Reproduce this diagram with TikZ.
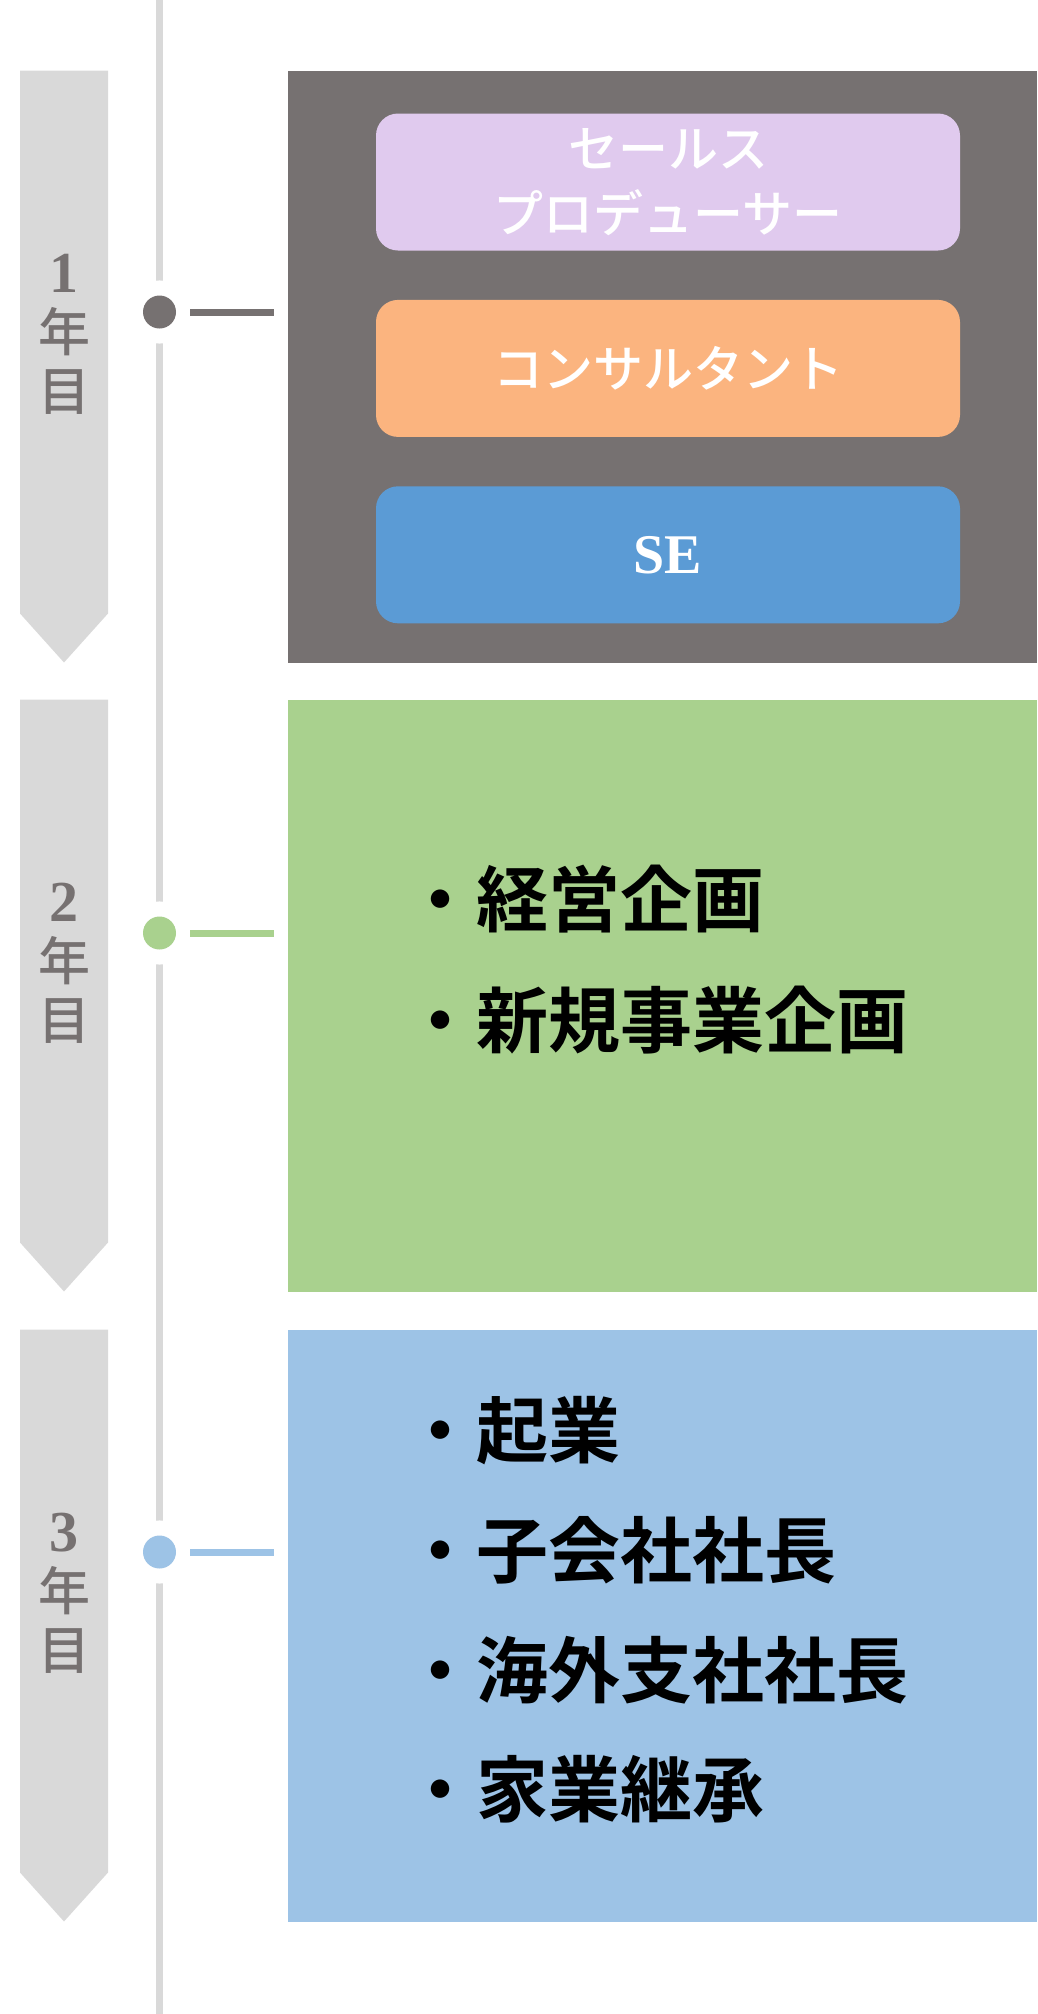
\documentclass[tikz,border=0pt]{standalone}
\usepackage{fontspec}
\setmainfont{Liberation Serif}
\newfontfamily\jp{Noto Sans CJK JP}[UprightFont=* Medium, BoldFont=* Bold]
\usetikzlibrary{positioning}

\definecolor{lineGray}{HTML}{D9D9D9}
\definecolor{darkGray}{HTML}{767171}
\definecolor{lavender}{HTML}{E0CAEE}
\definecolor{apricot}{HTML}{FBB47F}
\definecolor{seBlue}{HTML}{5B9BD5}
\definecolor{leafGreen}{HTML}{A9D18E}
\definecolor{skyBlue}{HTML}{9DC3E6}

\begin{document}
\begin{tikzpicture}[x=1pt, y=-1pt, node distance=49pt]
\tikzstyle{timeline} = [draw=lineGray, line width=7.5pt]
\tikzstyle{dot} = [circle, minimum size=33pt, inner sep=0pt, outer sep=14pt, preaction={draw=white, line width=30pt}]
\tikzstyle{link} = [line width=7pt, shorten >=14pt]
\tikzstyle{panel} = [rectangle, anchor=north west, minimum width=749pt, minimum height=592pt, inner sep=0pt]
\tikzstyle{yearlabel} = [text=darkGray, align=center, inner sep=0pt, font=\fontsize{52}{59}\selectfont]
\tikzstyle{role} = [rectangle, rounded corners=22pt, minimum width=584pt, minimum height=137pt, text=white, align=center, font=\jp\fontsize{50}{65}\selectfont]
\tikzstyle{entry} = [anchor=west, inner sep=0pt, font=\jp\fontsize{72}{80}\selectfont\bfseries]

\useasboundingbox (0,0) rectangle (1037,2014);

% Time axis
\coordinate (axtop) at (159.5,0);
\coordinate (axbot) at (159.5,2014);
\draw[timeline] (axtop) -- (axbot);

% Year markers, panels, dots and links
\foreach \ytop/\nm/\col/\ydot in {70.5/1/darkGray/312, 699.5/2/leafGreen/933, 1329.5/3/skyBlue/1552} {
  \fill[lineGray] (20,\ytop) -- (108,\ytop) -- (108,\ytop+543) -- (64,\ytop+592) -- (20,\ytop+543) -- cycle;
  \node[yearlabel] (label\nm) at (64,\ytop+264) {{\fontsize{58}{59}\selectfont\bfseries\nm}\\\jp 年\\\jp 目};
  \node[panel, fill=\col] (panel\nm) at (288,\ytop) {};
  \node[dot, fill=\col] (dot\nm) at (159.5,\ydot) {};
  \draw[link, draw=\col] (dot\nm) -- (panel\nm.west |- dot\nm);
}

% First year - roles
\node[role, fill=lavender] (sales) at (668,182) {セールス\\プロデューサー};
\node[role, fill=apricot, below=of sales] (consult) {コンサルタント};
\node[role, fill=seBlue, below=of consult, font=\fontsize{56}{64}\selectfont\bfseries] (se) {SE};

% Second year
\node[entry] (plan1) at (404,899) {・経営企画};
\node[entry] (plan2) at (404,1020) {・新規事業企画};

% Third year
\foreach \txt [count=\i] in {起業, 子会社社長, 海外支社社長, 家業継承}
  \node[entry] (goal\i) at (404,{1431+119.5*(\i-1)}) {・\txt};

\end{tikzpicture}
\end{document}
